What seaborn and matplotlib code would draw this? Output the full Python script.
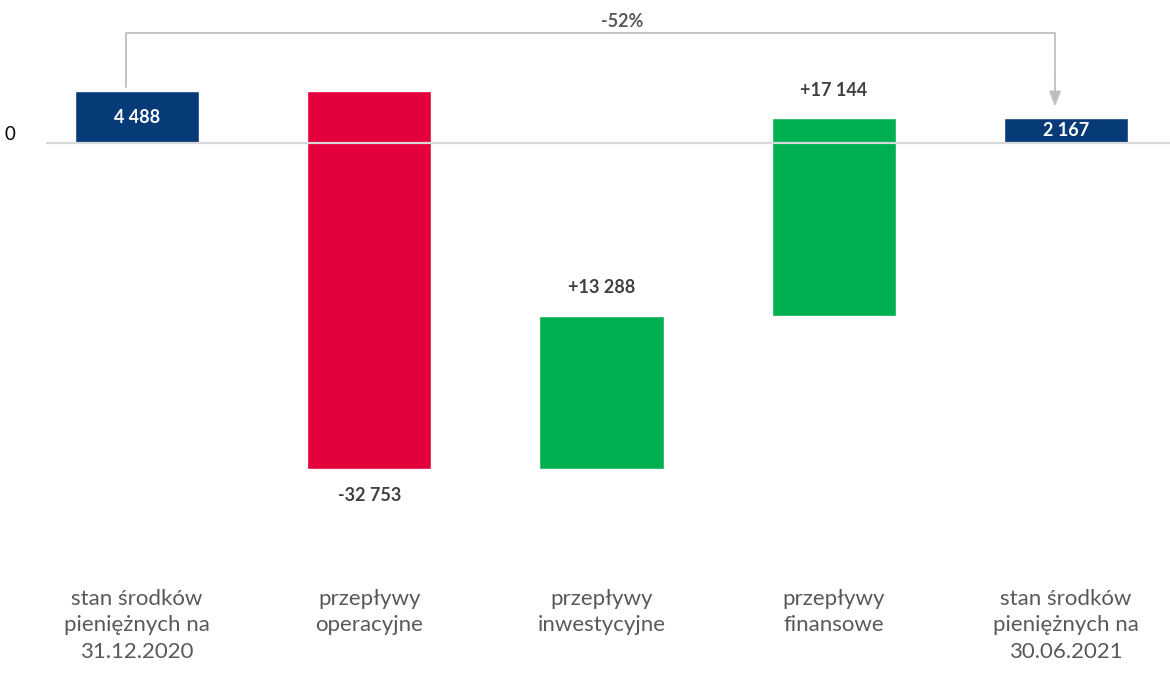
import numpy as np
import matplotlib
matplotlib.use("Agg")
import matplotlib.pyplot as plt
import seaborn as sns

categories = [
    "stan środków\npieniężnych na\n31.12.2020",
    "przepływy\noperacyjne",
    "przepływy\ninwestycyjne",
    "przepływy\nfinansowe",
    "stan środków\npieniężnych na\n30.06.2021",
]
values = [4488, -32753, 13288, 17144, 2167]
kinds = ["total", "delta", "delta", "delta", "total"]
change_label = "-52%"

NAVY = "#063b77"
RED = "#e4003b"
GREEN = "#00b050"
GRID = "#d9d9d9"
TXT = "#404040"


def fmt(v, sign=False):
    s = f"{abs(v):,}".replace(",", " ")
    if v < 0:
        return "-" + s
    return ("+" + s) if sign else s


# floating bar extents
lows, highs, colors = [], [], []
running = 0
for v, k in zip(values, kinds):
    if k == "total":
        lo, hi = min(0, v), max(0, v)
        running = v
        colors.append(NAVY)
    else:
        start, end = running, running + v
        lo, hi = min(start, end), max(start, end)
        running = end
        colors.append(GREEN if v > 0 else RED)
    lows.append(lo)
    highs.append(hi)
heights = [h - l for h, l in zip(highs, lows)]

sns.set_style("white")
plt.rcParams["font.family"] = ["Lato", "DejaVu Sans"]

fig = plt.figure(figsize=(11.7, 6.75), dpi=100)
ax = fig.add_axes([46 / 1170, 100 / 675, 1 - 46 / 1170, 575 / 675])

sns.barplot(x=categories, y=heights, hue=categories, palette=colors,
            legend=False, width=0.535, saturation=1, ax=ax, zorder=2)
for patch, lo in zip(ax.patches, lows):
    patch.set_y(lo)

ax.set_xlim(-0.392, 4.448)
ax.set_ylim(-37470, 12400)
ax.axhline(0, color=GRID, lw=1.6, zorder=3)

for side in ax.spines.values():
    side.set_visible(False)
ax.set_yticks([0])
ax.set_yticklabels(["0"], fontsize=13.5, color="#000000", va="bottom")
ax.tick_params(axis="y", length=0, pad=22)
ax.tick_params(axis="x", length=0, pad=10, labelsize=16, labelcolor="#595959")
for t in ax.get_xticklabels():
    t.set_linespacing(1.4)
ax.set_xlabel("")
ax.set_ylabel("")

# value labels
for i, (v, k, lo, hi) in enumerate(zip(values, kinds, lows, highs)):
    if k == "total":
        ax.text(i, (lo + hi) / 2, fmt(v), ha="center", va="center",
                color="white", fontsize=13, fontweight="bold", zorder=4)
    elif v > 0:
        ax.annotate(fmt(v, sign=True), (i, hi), xytext=(0, 14),
                    textcoords="offset points", ha="center", va="bottom",
                    color=TXT, fontsize=13, fontweight="bold")
    else:
        ax.annotate(fmt(v, sign=True), (i, lo), xytext=(0, -13),
                    textcoords="offset points", ha="center", va="top",
                    color=TXT, fontsize=13, fontweight="bold")

# change bracket
bracket_y = 9500
x0, x1 = 0 - 0.047, 4 - 0.047
ax.plot([x0, x0, x1, x1], [highs[0] + 350, bracket_y, bracket_y, highs[4] + 3600],
        color="#bfbfbf", lw=1.3, zorder=1, clip_on=False)
ax.annotate("", xy=(x1, highs[4] + 1000), xytext=(x1, highs[4] + 3700),
            arrowprops=dict(arrowstyle="-|>,head_length=0.9,head_width=0.35",
                            color="#bfbfbf", lw=1.3, shrinkA=0, shrinkB=0))
ax.text(2.09, bracket_y + 300, change_label, ha="center", va="bottom",
        color="#595959", fontsize=13, fontweight="bold")

fig.savefig("out.png", dpi=100)
